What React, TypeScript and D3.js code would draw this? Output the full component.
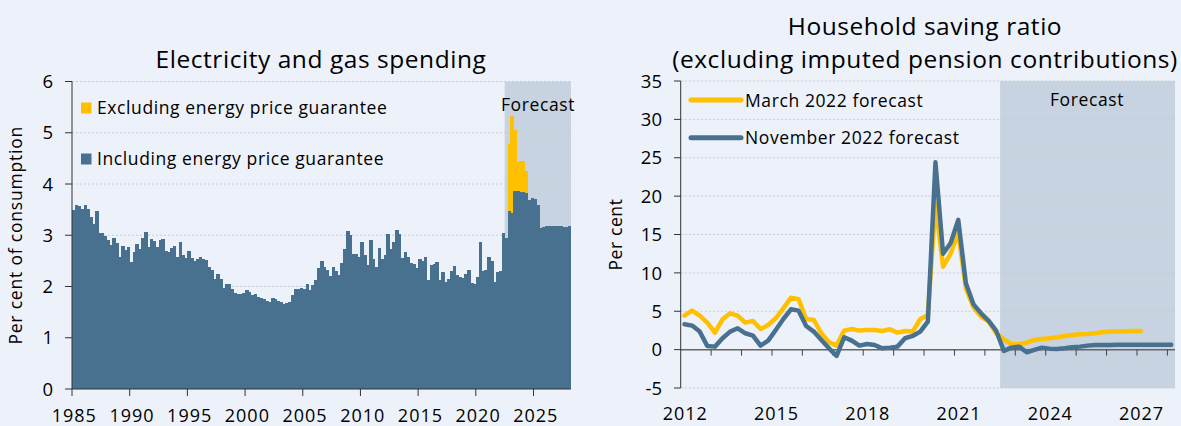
import React from 'react';
import * as d3 from 'd3';

// Electricity and gas spending, per cent of consumption, quarterly from 1985 Q1
const energyStart = 1985;
const energyInclEPG = [
  3.50, 3.59, 3.57, 3.52, 3.60, 3.52, 3.35, 3.21, 3.47, 3.05,
  3.05, 2.99, 2.90, 2.81, 2.94, 2.84, 2.57, 2.79, 2.71, 2.77,
  2.48, 2.67, 2.83, 2.74, 2.95, 3.07, 2.77, 2.92, 2.89, 2.77,
  2.90, 2.92, 2.70, 2.68, 2.76, 2.79, 2.58, 2.86, 2.61, 2.56,
  2.70, 2.55, 2.50, 2.53, 2.58, 2.53, 2.51, 2.38, 2.33, 2.14,
  2.24, 2.14, 1.98, 2.05, 2.04, 1.95, 1.88, 1.85, 1.85, 1.88,
  1.93, 1.90, 1.84, 1.85, 1.80, 1.78, 1.75, 1.71, 1.70, 1.78,
  1.75, 1.72, 1.69, 1.65, 1.67, 1.69, 1.83, 1.95, 1.95, 1.98,
  1.95, 2.05, 1.93, 2.03, 2.12, 2.37, 2.50, 2.38, 2.33, 2.20,
  2.38, 2.30, 2.22, 2.45, 2.74, 3.08, 3.01, 2.63, 2.64, 2.58,
  2.86, 2.61, 2.42, 2.90, 2.53, 2.38, 2.76, 2.53, 2.62, 3.02,
  2.74, 2.86, 3.10, 3.02, 2.56, 2.68, 2.58, 2.45, 2.44, 2.37,
  2.53, 2.50, 2.57, 2.12, 2.42, 2.44, 2.47, 2.13, 2.29, 2.08,
  2.14, 2.31, 2.40, 2.22, 2.19, 2.17, 2.24, 2.32, 2.06, 2.05,
  2.18, 2.87, 2.31, 2.32, 2.58, 2.50, 2.09, 2.29, 2.31, 3.05,
  2.95, 3.47, 3.43, 3.86, 3.86, 3.85, 3.84, 3.83, 3.68, 3.72,
  3.70, 3.59, 3.15, 3.16, 3.19, 3.18, 3.18, 3.19, 3.19, 3.18,
  3.17, 3.17, 3.19,
];
// excluding energy price guarantee, from 2022 Q4
const exclStart = 2022.75;
const energyExclEPG = [4.79, 5.32, 5.05, 4.43, 4.45, 4.45, 4.26];
const energyTicks = [1985, 1990, 1995, 2000, 2005, 2010, 2015, 2020, 2025];
const energyYTicks = [0, 1, 2, 3, 4, 5, 6];
const energyForecastFrom = 2022.5;

// Household saving ratio, per cent, quarterly from 2012 Q1
const savingStart = 2012;
const savingMarch22 = [
  4.43, 5.08, 4.43, 3.52, 2.22, 3.95, 4.73, 4.43, 3.52, 3.74,
  2.69, 3.21, 4.08, 5.38, 6.77, 6.56, 3.99, 3.87, 2.13, 0.96,
  0.52, 2.48, 2.69, 2.48, 2.56, 2.56, 2.43, 2.65, 2.22, 2.43,
  2.35, 3.95, 4.52, 19.0, 10.8, 12.5, 15.3, 8.0, 5.5, 4.3,
  3.65, 2.13, 1.35, 0.70, 0.70, 0.90, 1.26, 1.39, 1.48, 1.61,
  1.78, 1.91, 2.00, 2.04, 2.13, 2.26, 2.35, 2.35, 2.39, 2.43,
  2.43,
];
const savingNov22 = [
  3.30, 3.13, 2.35, 0.48, 0.39, 1.48, 2.35, 2.78, 2.13, 1.83,
  0.52, 1.17, 2.56, 3.99, 5.25, 5.08, 3.08, 2.35, 1.26, 0.17,
  -0.82, 1.61, 1.17, 0.52, 0.74, 0.61, 0.17, 0.26, 0.39, 1.48,
  1.78, 2.35, 3.65, 24.4, 12.5, 13.9, 16.9, 8.64, 5.9, 4.73,
  3.74, 2.43, -0.17, 0.26, 0.39, -0.34, -0.04, 0.26, 0.13, 0.09,
  0.17, 0.30, 0.39, 0.52, 0.61, 0.61, 0.61, 0.65, 0.65, 0.65,
  0.65, 0.65, 0.65, 0.65, 0.65,
];
const savingLabels = [2012, 2015, 2018, 2021, 2024, 2027];
const savingYTicks = [-5, 0, 5, 10, 15, 20, 25, 30, 35];
const savingForecastFrom = 2022.5;

const BG = '#EDF1F9';
const BLUE = '#48708F';
const GOLD = '#FFC000';
const SHADE = '#C7D3E0';
const GRID = '#C9CCD2';
const FONT = '"Open Sans", Lato, sans-serif';

// text helpers (the source font is a wide geometric face, so widen a bit)
const TITLE = { fontSize: 24.5, letterSpacing: 0.55 };
const LABEL = { fontSize: 17.5, letterSpacing: 0.6 };
const TICK = { fontSize: 18, letterSpacing: 1 };

const EnergyChart: React.FC = () => {
  const x = d3.scaleLinear().domain([1985, 2028.25]).range([72, 571]);
  const y = d3.scaleLinear().domain([0, 6]).range([389, 81.5]);
  const bw = x(1985.25) - x(1985);

  return (
    <g>
      <text x={321} y={68} textAnchor="middle" {...TITLE}>Electricity and gas spending</text>
      {/* forecast shading */}
      <rect x={x(energyForecastFrom)} y={y(6)} width={x(2028.25) - x(energyForecastFrom)} height={y(0) - y(6)} fill={SHADE} />
      {energyYTicks.filter(t => t > 0).map(t => (
        <line key={t} x1={x.range()[0]} x2={x.range()[1]} y1={y(t)} y2={y(t)} stroke={GRID} strokeDasharray="2,2" />
      ))}
      <g shapeRendering="crispEdges">
        {energyExclEPG.map((v, i) => (
          <rect key={'o' + i} x={x(exclStart + i / 4)} y={y(v)} width={bw + 0.6} height={y(0) - y(v)} fill={GOLD} />
        ))}
        {energyInclEPG.map((v, i) => (
          <rect key={'b' + i} x={x(energyStart + i / 4)} y={y(v)} width={Math.min(bw + 0.6, 571 - x(energyStart + i / 4))} height={y(0) - y(v)} fill={BLUE} />
        ))}
      </g>
      <text x={538} y={110.5} textAnchor="middle" {...LABEL}>Forecast</text>
      {/* axes */}
      <line x1={72} x2={72} y1={y(6)} y2={y(0)} stroke="#333" />
      <line x1={72} x2={571} y1={y(0)} y2={y(0)} stroke="#333" />
      {energyYTicks.map(t => (
        <g key={t}>
          <line x1={65} x2={72} y1={y(t)} y2={y(t)} stroke="#333" />
          <text x={53} y={y(t)} dy="0.36em" textAnchor="end" fontSize={18.5}>{t}</text>
        </g>
      ))}
      {energyTicks.map(t => (
        <g key={t}>
          <line x1={x(t)} x2={x(t)} y1={y(0)} y2={y(0) + 7} stroke="#333" />
          <text x={x(t + 0.2)} y={421.5} textAnchor="middle" {...TICK}>{t}</text>
        </g>
      ))}
      <text transform={`translate(22,${(y(0) + y(6)) / 2}) rotate(-90)`} textAnchor="middle" fontSize={17.5} letterSpacing={0.8}>Per cent of consumption</text>
      {/* legend */}
      <rect x={81} y={102.5} width={10.5} height={11} fill={GOLD} />
      <text x={97} y={114} {...LABEL}>Excluding energy price guarantee</text>
      <rect x={81} y={153.5} width={10.5} height={11} fill={BLUE} />
      <text x={97} y={165} {...LABEL}>Including energy price guarantee</text>
    </g>
  );
};

const SavingChart: React.FC = () => {
  const x = d3.scaleLinear().domain([2012, 2028.25]).range([680.7, 1175]);
  const y = d3.scaleLinear().domain([-5, 35]).range([388, 81]);
  const line = d3.line<number>()
    .x((_, i) => x(savingStart + i / 4 + 0.125))
    .y(d => y(d));
  const years = d3.range(2013, 2029);

  return (
    <g>
      <text x={925} y={35} textAnchor="middle" {...TITLE}>Household saving ratio</text>
      <text x={925} y={68} textAnchor="middle" {...TITLE}>(excluding imputed pension contributions)</text>
      <rect x={x(savingForecastFrom)} y={y(35)} width={x(2028.25) - x(savingForecastFrom)} height={y(-5) - y(35)} fill={SHADE} />
      {savingYTicks.filter(t => t !== 0).map(t => (
        <line key={t} x1={x.range()[0]} x2={x.range()[1]} y1={y(t)} y2={y(t)} stroke={GRID} strokeDasharray="2,2" />
      ))}
      <text x={1087} y={106} textAnchor="middle" {...LABEL}>Forecast</text>
      {/* zero axis */}
      <line x1={x.range()[0]} x2={x.range()[1]} y1={y(0)} y2={y(0)} stroke="#666" strokeWidth={1.5} />
      {years.map(t => (
        <line key={t} x1={x(t)} x2={x(t)} y1={y(0)} y2={y(0) + 6} stroke="#444" />
      ))}
      <path d={line(savingMarch22) || ''} fill="none" stroke={GOLD} strokeWidth={4.5} strokeLinejoin="round" strokeLinecap="round" />
      <path d={line(savingNov22) || ''} fill="none" stroke={BLUE} strokeWidth={4.5} strokeLinejoin="round" strokeLinecap="round" />
      <line x1={680.7} x2={680.7} y1={y(35)} y2={y(-5)} stroke="#333" />
      {savingYTicks.map(t => (
        <g key={t}>
          <line x1={674} x2={680.7} y1={y(t)} y2={y(t)} stroke="#333" />
          <text x={662} y={y(t)} dy="0.36em" textAnchor="end" fontSize={18.5}>{t}</text>
        </g>
      ))}
      {savingLabels.map(t => (
        <text key={t} x={x(t + 0.15)} y={420} textAnchor="middle" {...TICK}>{t}</text>
      ))}
      <text transform={`translate(622,${(y(-5) + y(35)) / 2}) rotate(-90)`} textAnchor="middle" {...LABEL}>Per cent</text>
      {/* legend */}
      <line x1={691} x2={741} y1={100} y2={100} stroke={GOLD} strokeWidth={5} strokeLinecap="round" />
      <text x={745} y={106.5} {...LABEL}>March 2022 forecast</text>
      <line x1={691} x2={741} y1={137.7} y2={137.7} stroke={BLUE} strokeWidth={5} strokeLinecap="round" />
      <text x={745} y={144} {...LABEL}>November 2022 forecast</text>
    </g>
  );
};

export default function App() {
  return (
    <svg
      width={1181}
      height={426}
      style={{ position: 'absolute', left: 0, top: 0, fontFamily: FONT }}
      fill="#000"
    >
      <rect width={1181} height={426} fill={BG} />
      <EnergyChart />
      <SavingChart />
    </svg>
  );
}
